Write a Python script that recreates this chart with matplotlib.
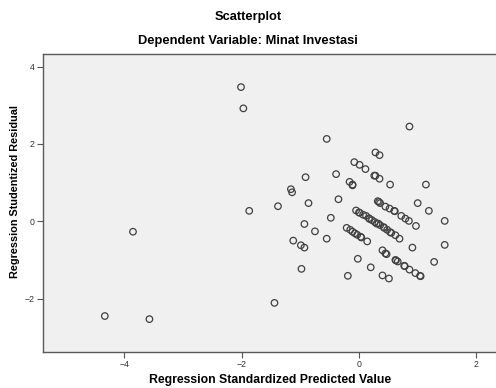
import matplotlib
matplotlib.use("Agg")
import matplotlib.pyplot as plt

# ==========================================================
# Datos (predicho estandarizado vs residuo studentizado)
# ==========================================================
pred_std = [
    -2.01, -1.97, -3.85, -4.33, -3.57, -1.44, -1.87, -0.55, -0.91, -0.39,
    -1.16, -1.14, -0.86, -0.35, -1.38, -0.48, -0.93, -0.75, -0.55, -1.12,
    -0.99, -0.93, -0.98, 0.86, 0.28, 0.35, -0.08, 0.01, 0.11, 0.26,
    0.28, 0.35, 0.53, 1.14, -0.16, -0.11, -0.11, 1.00, 1.19, 1.46,
    1.46, 0.91, 1.28, -0.02, 0.20, -0.19, 0.40, 0.51, 0.40, 0.45,
    0.47,
    # banda A
    0.32, 0.34, 0.36, 0.45, 0.52, 0.60, 0.61, 0.72, 0.79, 0.85, 0.97,
    # banda B
    -0.05, 0.00, 0.01, 0.07, 0.12, 0.17, 0.18, 0.22, 0.27, 0.30,
    0.33, 0.36, 0.42, 0.43, 0.48, 0.53, 0.55, 0.62, 0.69,
    # banda C
    -0.21, -0.15, -0.11, -0.07, -0.03, 0.03, 0.04, 0.14,
    # banda D
    0.62, 0.63, 0.66, 0.77, 0.78, 0.86, 0.96, 1.04, 1.05,
]
resid_stud = [
    3.47, 2.92, -0.27, -2.45, -2.53, -2.11, 0.27, 2.13, 1.14, 1.22,
    0.83, 0.75, 0.47, 0.57, 0.39, 0.09, -0.07, -0.26, -0.45, -0.50,
    -0.62, -0.68, -1.23, 2.45, 1.78, 1.71, 1.53, 1.46, 1.35, 1.18,
    1.18, 1.10, 0.95, 0.95, 1.02, 0.95, 0.93, 0.47, 0.27, 0.01,
    -0.61, -0.68, -1.05, -0.97, -1.19, -1.41, -1.40, -1.48, -0.75, -0.83,
    -0.85,
    0.52, 0.50, 0.47, 0.38, 0.33, 0.27, 0.26, 0.14, 0.07, 0.01, -0.12,
    0.28, 0.23, 0.22, 0.17, 0.14, 0.08, 0.06, 0.03, -0.02, -0.06,
    -0.06, -0.10, -0.15, -0.17, -0.22, -0.28, -0.30, -0.36, -0.45,
    -0.17, -0.22, -0.27, -0.31, -0.35, -0.40, -0.42, -0.52,
    -1.00, -1.01, -1.04, -1.15, -1.16, -1.25, -1.34, -1.41, -1.42,
]

x_ticks = [-4, -2, 0, 2]
y_ticks = [-2, 0, 2, 4]

plt.rcParams["font.family"] = ["Liberation Sans", "DejaVu Sans"]

fig = plt.figure(figsize=(4.96, 3.88), dpi=100)
ax = fig.add_axes([43 / 496, 1 - 352 / 388, 455 / 496, 298 / 388])
ax.set_facecolor("#f0f0f0")

ax.scatter(pred_std, resid_stud, s=22, facecolors="none",
           edgecolors="#404040", linewidths=0.9)

ax.set_xlim(-5.383, 2.368)
ax.set_ylim(-3.380, 4.326)
ax.set_xticks(x_ticks)
ax.set_yticks(y_ticks)
ax.tick_params(direction="out", length=4, width=0.8, colors="#555555",
               labelsize=6.3, labelcolor="#333333", pad=2)

for side in ["left", "bottom", "top"]:
    ax.spines[side].set_color("#5a5a5a")
    ax.spines[side].set_linewidth(1.0)
ax.spines["right"].set_visible(False)

ax.set_xlabel("Regression Standardized Predicted Value", fontsize=8.8,
              fontweight="bold", va="center")
ax.xaxis.set_label_coords((270 - 43) / 455, (352 - 380) / 298)
ax.set_ylabel("Regression Studentized Residual", fontsize=7.8,
              fontweight="bold", va="center")
ax.yaxis.set_label_coords((15 - 43) / 455, (352 - 192) / 298)

fig.text(0.5, 1 - 17 / 388, "Scatterplot", ha="center", va="center",
         fontsize=9.3, fontweight="bold")
fig.text(0.5, 1 - 41 / 388, "Dependent Variable: Minat Investasi",
         ha="center", va="center", fontsize=9.3, fontweight="bold")

fig.savefig("out.png", dpi=100, facecolor="white")
